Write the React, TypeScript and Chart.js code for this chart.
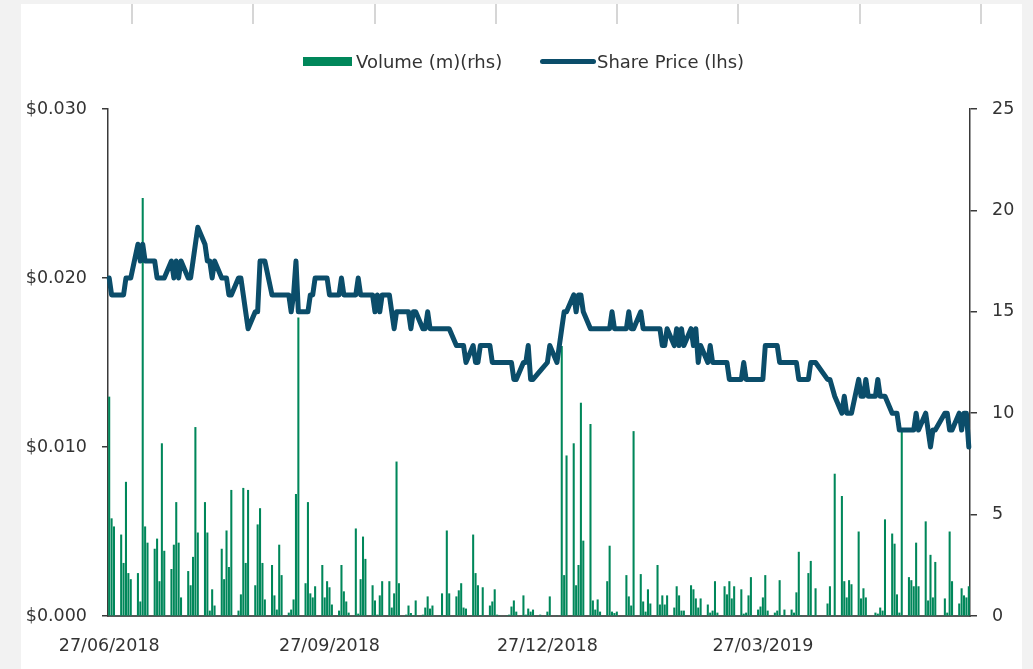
import React, { useEffect, useRef } from 'react';
import { Chart, registerables } from 'chart.js';

Chart.register(...registerables);

// Calendar range of the chart (daily date axis)
const startDate = [2018, 6, 27];
const endDate = [2019, 6, 21];
const tickDates = ['27/06/2018', '27/09/2018', '27/12/2018', '27/03/2019'];

// One value per weekday (Mon-Fri) from 27/06/2018; null = market holiday
const sharePrice: (number | null)[] = [
  0.020, 0.019, 0.019,
  0.019, 0.019, 0.020, 0.020, 0.020,
  0.022, 0.021, 0.022, 0.021, 0.021,
  0.021, 0.020, 0.020, 0.020, 0.020,
  0.021, 0.020, 0.021, 0.020, 0.021,
  0.020, 0.020, 0.021, 0.022, 0.023,
  0.022, 0.021, 0.021, 0.020, 0.021,
  0.020, 0.020, 0.020, 0.019, 0.019,
  0.020, 0.020, 0.019, 0.018, 0.017,
  0.018, 0.018, 0.021, 0.021, 0.021,
  0.019, 0.019, 0.019, 0.019, 0.019,
  0.019, 0.018, 0.019, 0.021, 0.018,
  0.018, 0.018, 0.019, 0.019, 0.020,
  0.020, 0.020, 0.020, 0.019, 0.019,
  0.019, 0.020, 0.019, 0.019, 0.019,
  0.019, 0.020, 0.019, 0.019, 0.019,
  0.019, 0.018, 0.019, 0.018, 0.019,
  0.019, 0.018, 0.017, 0.018, 0.018,
  0.018, 0.018, 0.017, 0.018, 0.018,
  0.017, 0.017, 0.018, 0.017, 0.017,
  0.017, 0.017, 0.017, 0.017, 0.017,
  0.016, 0.016, 0.016, 0.016, 0.015,
  0.016, 0.015, 0.015, 0.016, 0.016,
  0.016, 0.015, 0.015, 0.015, 0.015,
  0.015, 0.015, 0.015, 0.014, 0.014,
  0.015, 0.015, 0.016, 0.014, 0.014,
  0.0145, null, null, 0.015, 0.016,
  0.015, null, 0.017, 0.018, 0.018,
  0.019, 0.018, 0.019, 0.019, 0.018,
  0.017, 0.017, 0.017, 0.017, 0.017,
  0.017, 0.017, 0.018, 0.017, 0.017,
  null, 0.017, 0.018, 0.017, 0.017,
  0.018, 0.017, 0.017, 0.017, 0.017,
  0.017, 0.017, 0.016, 0.016, 0.017,
  0.016, 0.017, 0.016, 0.017, 0.016,
  0.017, 0.016, 0.017, 0.015, 0.016,
  0.015, 0.016, 0.015, 0.015, 0.015,
  0.015, 0.015, 0.014, 0.014, 0.014,
  0.014, 0.015, 0.014, 0.014, 0.014,
  0.014, 0.014, 0.014, 0.016, 0.016,
  0.016, 0.016, 0.015, 0.015, 0.015,
  0.015, 0.015, 0.015, 0.014, 0.014,
  0.014, 0.015, 0.015, 0.015, null,
  null, 0.014, 0.014, null, 0.013,
  0.012, 0.013, 0.012, 0.012, 0.012,
  0.014, 0.013, 0.013, 0.014, 0.013,
  0.013, 0.014, 0.013, 0.013, 0.013,
  0.012, 0.012, 0.012, 0.011, 0.011,
  0.011, 0.011, 0.011, 0.012, 0.011,
  0.012, 0.011, 0.010, 0.011, 0.011,
  null, 0.012, 0.012, 0.011, 0.011,
  0.012, 0.011, 0.012, 0.012, 0.010,
];

// Volume in millions, one value per weekday; null = market holiday
const volumeM: (number | null)[] = [
  10.8, 4.8, 4.4,
  4.0, 2.6, 6.6, 2.1, 1.8,
  2.1, 0.7, 20.6, 4.4, 3.6,
  3.3, 3.8, 1.7, 8.5, 3.2,
  2.3, 3.5, 5.6, 3.6, 0.9,
  2.2, 1.5, 2.9, 9.3, 4.1,
  5.6, 4.1, 0.25, 1.3, 0.5,
  3.3, 1.8, 4.2, 2.4, 6.2,
  0.25, 1.05, 6.3, 2.6, 6.2,
  1.5, 4.5, 5.3, 2.6, 0.8,
  2.5, 1.0, 0.3, 3.5, 2.0,
  0.15, 0.3, 0.8, 6.0, 14.7,
  1.6, 5.6, 1.1, 0.9, 1.45,
  2.5, 0.9, 1.7, 1.4, 0.55,
  0.25, 2.5, 1.2, 0.7, 0.15,
  4.3, 0.1, 1.8, 3.9, 2.8,
  1.5, 0.75, 0.05, 1.0, 1.7,
  1.7, 0.4, 1.1, 7.6, 1.6,
  0.05, 0.5, 0.13, 0, 0.75,
  0.05, 0.4, 0.95, 0.35, 0.5,
  0, 1.1, 0, 4.2, 1.1,
  0.95, 1.25, 1.6, 0.4, 0.35,
  4.0, 2.1, 1.5, 0, 1.4,
  0.5, 0.7, 1.3, 0.05, 0,
  0, 0.05, 0.45, 0.75, 0.2,
  1.0, 0.05, 0.35, 0.2, 0.3,
  0.05, null, null, 0.2, 0.95,
  0, null, 13.3, 2.0, 7.9,
  8.5, 1.5, 2.5, 10.5, 3.7,
  9.45, 0.75, 0.3, 0.8, 0.2,
  1.7, 3.45, 0.2, 0.13, 0.2,
  null, 2.0, 0.95, 0.5, 9.1,
  2.05, 0.7, 0.2, 1.3, 0.6,
  2.5, 0.55, 1.0, 0.55, 1.0,
  0.4, 1.45, 1.0, 0.25, 0.25,
  1.5, 1.3, 0.85, 0.4, 0.85,
  0.55, 0.15, 0.25, 1.7, 0.15,
  1.45, 1.05, 1.7, 0.85, 1.45,
  1.3, 0.1, 0.15, 1.0, 1.9,
  0.3, 0.45, 0.9, 2.0, 0.25,
  0.15, 0.25, 1.75, 0, 0.3,
  0.3, 0.15, 1.15, 3.15, 0,
  2.1, 2.7, 0, 1.35, null,
  null, 0.6, 1.45, null, 7.0,
  5.9, 1.7, 0.9, 1.75, 1.55,
  4.15, 0.85, 1.35, 0.9, 0,
  0.15, 0.1, 0.4, 0.25, 4.75,
  4.05, 3.55, 1.05, 0.15, 9.15,
  1.9, 1.75, 1.45, 3.6, 1.45,
  4.65, 0.75, 3.0, 0.9, 2.65,
  null, 0.85, 0.15, 4.15, 1.7,
  0.6, 1.35, 1.0, 0.9, 1.45,
];

const LINE_COLOR = '#0B4D6A';
const BAR_COLOR = '#00875A';
const TEXT_COLOR = '#333333';
const FONT = 'DejaVu Sans';

function pad(n: number) {
  return n < 10 ? '0' + n : String(n);
}

function buildCalendar() {
  const labels: string[] = [];
  const price: (number | null)[] = [];
  const vol: (number | null)[] = [];
  const d = new Date(Date.UTC(startDate[0], startDate[1] - 1, startDate[2]));
  const end = Date.UTC(endDate[0], endDate[1] - 1, endDate[2]);
  let w = 0;
  while (d.getTime() <= end) {
    labels.push(pad(d.getUTCDate()) + '/' + pad(d.getUTCMonth() + 1) + '/' + d.getUTCFullYear());
    const wd = d.getUTCDay();
    if (wd === 0 || wd === 6) {
      price.push(null);
      vol.push(null);
    } else {
      price.push(w < sharePrice.length ? sharePrice[w] : null);
      vol.push(w < volumeM.length ? volumeM[w] : null);
      w++;
    }
    d.setUTCDate(d.getUTCDate() + 1);
  }
  return { labels, price, vol };
}

export default function App() {
  const ref = useRef<HTMLCanvasElement | null>(null);

  useEffect(() => {
    if (!ref.current) return;
    const { labels, price, vol } = buildCalendar();
    Chart.defaults.font.family = FONT;
    Chart.defaults.font.size = 17.5;
    Chart.defaults.color = TEXT_COLOR;
    const chart = new Chart(ref.current, {
      type: 'bar',
      data: {
        labels,
        datasets: [
          {
            type: 'line',
            label: 'Share Price (lhs)',
            data: price,
            yAxisID: 'y',
            borderColor: LINE_COLOR,
            backgroundColor: LINE_COLOR,
            borderWidth: 5,
            pointRadius: 0,
            spanGaps: true,
            tension: 0,
            borderJoinStyle: 'round',
            borderCapStyle: 'round',
            order: 0,
          } as any,
          {
            type: 'bar',
            label: 'Volume (m)(rhs)',
            data: vol,
            yAxisID: 'y1',
            backgroundColor: BAR_COLOR,
            barThickness: 1.4,
            order: 1,
          } as any,
        ],
      },
      options: {
        responsive: false,
        animation: false,
        devicePixelRatio: 1,
        layout: { padding: { top: 109, left: 0, right: 0, bottom: 0 } },
        plugins: { legend: { display: false }, tooltip: { enabled: false } },
        scales: {
          x: {
            type: 'category',
            offset: true,
            grid: { display: false, drawTicks: false },
            border: { display: true, color: '#595959', width: 2 },
            ticks: {
              autoSkip: false,
              maxRotation: 0,
              minRotation: 0,
              padding: 20,
              color: TEXT_COLOR,
              callback: (_v: any, i: number) => (tickDates.includes(labels[i]) ? labels[i] : ''),
            },
            afterFit: (s: any) => {
              s.height = 53;
            },
          },
          y: {
            position: 'left',
            min: 0,
            max: 0.03,
            ticks: {
              stepSize: 0.01,
              padding: 15,
              color: TEXT_COLOR,
              callback: (v: any) => '$' + Number(v).toFixed(3),
            },
            grid: { drawOnChartArea: false, drawTicks: true, tickLength: 6, color: '#3a3a3a', lineWidth: 1.5 },
            border: { display: true, color: '#3a3a3a', width: 1.5 },
            afterFit: (s: any) => {
              s.width = 108;
            },
          },
          y1: {
            position: 'right',
            min: 0,
            max: 25,
            ticks: { stepSize: 5, padding: 15, color: TEXT_COLOR },
            grid: { drawOnChartArea: false, drawTicks: true, tickLength: 7, color: '#3a3a3a', lineWidth: 1.5 },
            border: { display: true, color: '#3a3a3a', width: 1.5 },
            afterFit: (s: any) => {
              s.width = 63;
            },
          },
        },
      },
    });
    return () => chart.destroy();
  }, []);

  const topLines = [132, 253, 374.5, 495.5, 617, 738, 859.5, 981];

  return (
    <div
      style={{
        position: 'fixed',
        left: 0,
        top: 0,
        width: 1033,
        height: 669,
        background: '#f2f2f2',
        overflow: 'hidden',
      }}
    >
      <div style={{ position: 'absolute', left: 21, top: 4, width: 1001, height: 665, background: '#ffffff' }} />
      {topLines.map((x) => (
        <div
          key={x}
          style={{ position: 'absolute', left: x - 1, top: 4, width: 2, height: 20, background: '#d6d6d6' }}
        />
      ))}
      <canvas ref={ref} width={1033} height={669} style={{ position: 'absolute', left: 0, top: 0 }} />
      <div style={{ position: 'absolute', left: 303, top: 57, width: 49, height: 9, background: BAR_COLOR }} />
      <div
        style={{
          position: 'absolute',
          left: 356,
          top: 53,
          fontFamily: FONT,
          fontSize: 18,
          lineHeight: '18px',
          color: TEXT_COLOR,
          whiteSpace: 'nowrap',
        }}
      >
        Volume (m)(rhs)
      </div>
      <div
        style={{
          position: 'absolute',
          left: 540,
          top: 59,
          width: 56,
          height: 5,
          borderRadius: 2.5,
          background: LINE_COLOR,
        }}
      />
      <div
        style={{
          position: 'absolute',
          left: 597,
          top: 53,
          fontFamily: FONT,
          fontSize: 18,
          lineHeight: '18px',
          color: TEXT_COLOR,
          whiteSpace: 'nowrap',
        }}
      >
        Share Price (lhs)
      </div>
    </div>
  );
}
